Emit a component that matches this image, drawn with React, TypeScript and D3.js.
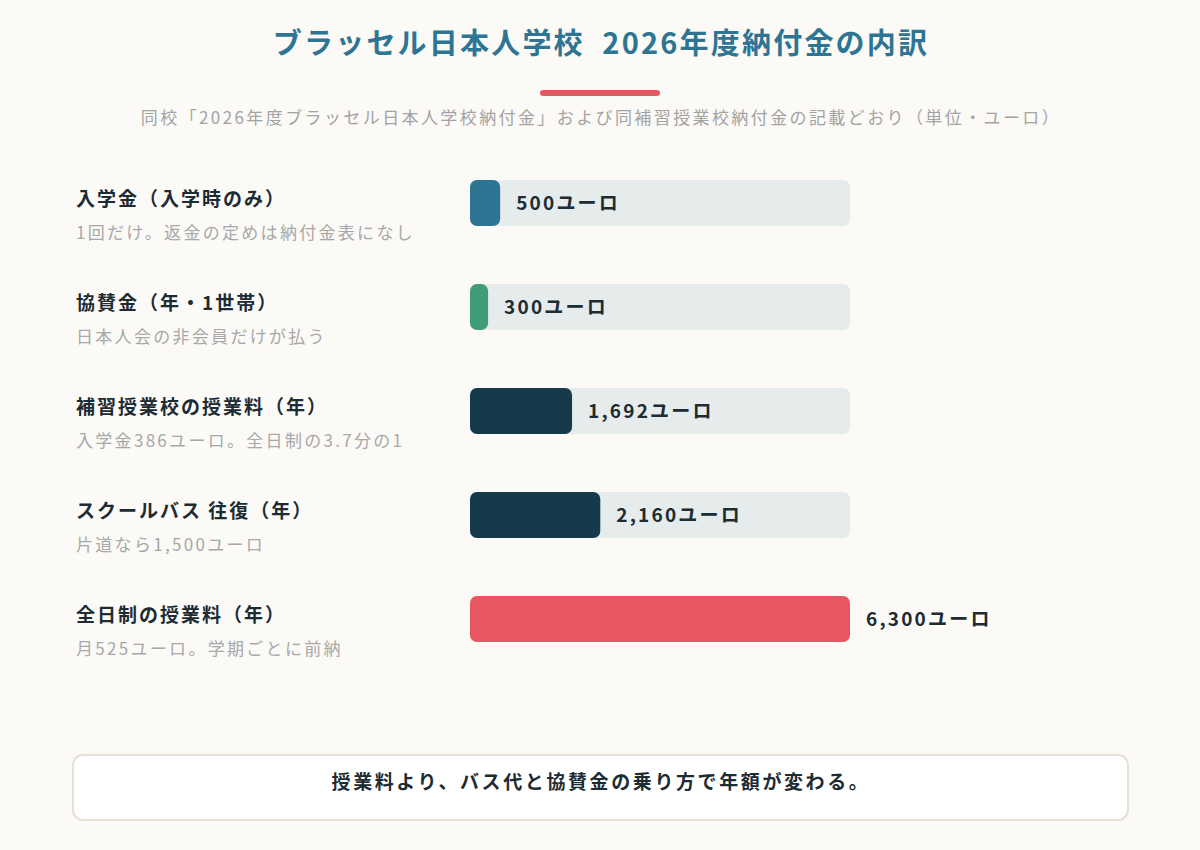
import React from "react";
import * as d3 from "d3";

const titleText = "ブラッセル日本人学校  2026年度納付金の内訳";
const subtitleText =
    "同校「2026年度ブラッセル日本人学校納付金」および同補習授業校納付金の記載どおり（単位・ユーロ）";
const footerText = "授業料より、バス代と協賛金の乗り方で年額が変わる。";

const categories = [
    "入学金（入学時のみ）",
    "協賛金（年・1世帯）",
    "補習授業校の授業料（年）",
    "スクールバス 往復（年）",
    "全日制の授業料（年）",
];
const notes = [
    "1回だけ。返金の定めは納付金表になし",
    "日本人会の非会員だけが払う",
    "入学金386ユーロ。全日制の3.7分の1",
    "片道なら1,500ユーロ",
    "月525ユーロ。学期ごとに前納",
];
const values = [500, 300, 1692, 2160, 6300];
const barColors = ["#2e7594", "#3e9c78", "#143a4c", "#143a4c", "#e85661"];

const W = 1200;
const H = 850;
const FONT = "'Noto Sans CJK JP', 'Noto Sans', sans-serif";

const App: React.FC = () => {
    // Bar geometry
    const barLeft = 470;
    const barRight = 850;
    const barH = 46;

    const x = d3.scaleLinear().domain([0, d3.max(values) as number]).range([barLeft, barRight]);
    const y = d3
        .scaleBand<number>()
        .domain(d3.range(values.length))
        .range([151, 671])
        .paddingInner(0);

    const fmt = d3.format(",");

    return (
        <svg
            width={W}
            height={H}
            style={{ position: "absolute", left: 0, top: 0, display: "block" }}
            fontFamily={FONT}
        >
            <rect x={0} y={0} width={W} height={H} fill="#fbfaf7" />

            {/* Title */}
            <text
                x={W / 2 + 1}
                y={54}
                textAnchor="middle"
                fontSize={29}
                fontWeight={700}
                fill="#2e7594"
                letterSpacing={2.2}
                style={{ whiteSpace: "pre" }}
            >
                {titleText}
            </text>
            <rect x={540} y={90} width={120} height={6} rx={3} fill="#e85661" />
            <text
                x={W / 2 + 1}
                y={124}
                textAnchor="middle"
                fontSize={17}
                fill="#a3a3a3"
                letterSpacing={2.4}
            >
                {subtitleText}
            </text>

            {/* Rows */}
            {values.map((v, i) => {
                const band = y(i) as number;
                const cy = band + y.bandwidth() / 2;
                const top = cy - barH / 2;
                const end = x(v);
                return (
                    <g key={i}>
                        <text
                            x={76}
                            y={cy + 3}
                            fontSize={19}
                            fontWeight={700}
                            fill="#1d2b33"
                            letterSpacing={2}
                        >
                            {categories[i]}
                        </text>
                        <text
                            x={76}
                            y={cy + 36}
                            fontSize={17}
                            fill="#a8a8a8"
                            letterSpacing={2.3}
                        >
                            {notes[i]}
                        </text>
                        <rect
                            x={barLeft}
                            y={top}
                            width={barRight - barLeft}
                            height={barH}
                            rx={7}
                            fill="#e6ecec"
                        />
                        <rect
                            x={barLeft}
                            y={top}
                            width={end - barLeft}
                            height={barH}
                            rx={7}
                            fill={barColors[i]}
                        />
                        <text
                            x={end + 16}
                            y={cy + 7}
                            fontSize={19}
                            fontWeight={700}
                            fill="#1d2b33"
                            letterSpacing={2.2}
                        >
                            {fmt(v)}ユーロ
                        </text>
                    </g>
                );
            })}

            {/* Footer note */}
            <rect
                x={73}
                y={755}
                width={1055}
                height={65}
                rx={10}
                fill="#ffffff"
                stroke="#e6e0d6"
                strokeWidth={2}
            />
            <text
                x={W / 2 + 1}
                y={789}
                textAnchor="middle"
                fontSize={19}
                fontWeight={700}
                fill="#1d2b33"
                letterSpacing={2.6}
            >
                {footerText}
            </text>
        </svg>
    );
};

export default App;
